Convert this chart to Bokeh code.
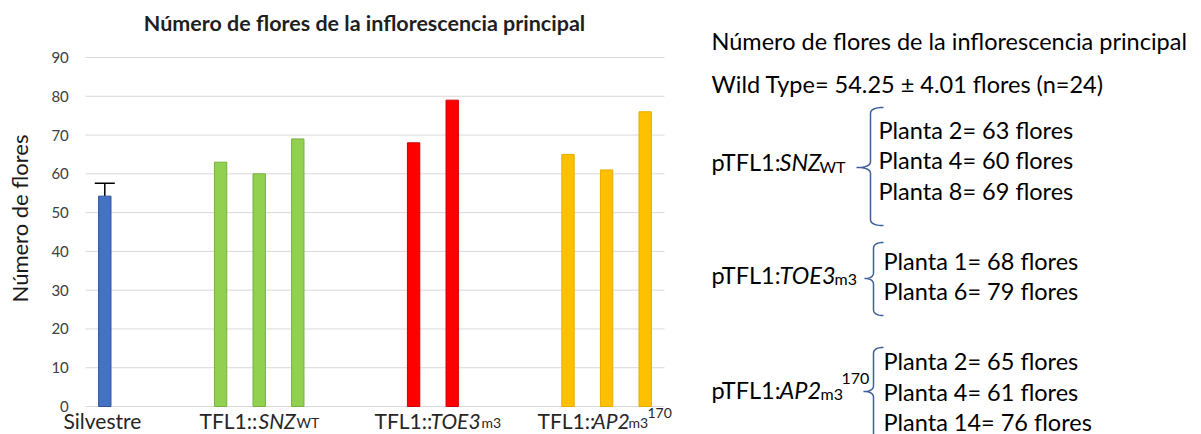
import math
from bokeh.plotting import figure
from bokeh.models import Range1d, Whisker, TeeHead, ColumnDataSource
from bokeh.layouts import row
from bokeh.core.properties import value
from bokeh.embed import file_html
from bokeh.resources import INLINE

# ---------------- data ----------------
group_names = ["Silvestre", "TFL1::SNZ", "TFL1::TOE3", "TFL1::AP2"]
silvestre = [54.25]
silvestre_err = [3.3]          # error bar as drawn in the picture
snz_wt = [63, 60, 69]
toe3_m3 = [68, 79]
ap2_m3_170 = [65, 61, 76]
y_ticks = [0, 10, 20, 30, 40, 50, 60, 70, 80, 90]

wt_mean, wt_sd, wt_n = 54.25, 4.01, 24
snz_plants = ["Planta 2", "Planta 4", "Planta 8"]
toe3_plants = ["Planta 1", "Planta 6"]
ap2_plants = ["Planta 2", "Planta 4", "Planta 14"]

title_text = "Número de flores de la inflorescencia principal"
y_title = "Número de flores"

# ---------------- layout constants (page pixels) ----------------
FONT = "Lato"
W_TOTAL, FIG_H = 1201, 434
SPLIT = 680                      # page x where the right panel starts
GRID_L, GRID_R = 85, 664         # plot area in page px
Y0_PX, YTOP_PX = 406, 57         # page y of 0 and of 90
GAP = 2                          # empty slots between groups
BAR_W = 0.32
TDY = 8                          # baseline correction for alphabetic text
TICK_RIGHT = 68                  # right edge of the y tick labels
DIGIT_PX = 8.4                   # approx digit width at 15px

series = [silvestre, snz_wt, toe3_m3, ap2_m3_170]
styles = [("#4472C4", "#2F5597"), ("#92D050", "#76B041"),
          ("#FF0000", "#D00000"), ("#FFC000", "#E5AC00")]
positions = []
s = 0
for vals in series:
    positions.append([s + i for i in range(len(vals))])
    s += len(vals) + GAP
n_slots = s - GAP

k = (Y0_PX - YTOP_PX) / y_ticks[-1]
slot_px = (GRID_R - GRID_L) / n_slots


def dx(px):
    return -0.5 + (px - GRID_L) / slot_px


def dy(py):
    return (Y0_PX - py) / k


p = figure(width=SPLIT, height=FIG_H,
           x_range=Range1d(dx(0), dx(SPLIT)), y_range=Range1d(dy(FIG_H), dy(0)),
           output_backend="svg", toolbar_location=None,
           min_border_left=0, min_border_right=0,
           min_border_top=0, min_border_bottom=0)
p.outline_line_color = None
p.axis.visible = False
p.grid.visible = False

# horizontal gridlines at the tick values
p.segment(x0=[dx(GRID_L)] * len(y_ticks), x1=[dx(GRID_R)] * len(y_ticks),
          y0=y_ticks, y1=y_ticks, line_color="#D9D9D9", line_width=1)

for xs, vals, (fc, lc) in zip(positions, series, styles):
    p.vbar(x=xs, top=vals, bottom=0, width=BAR_W, fill_color=fc, line_color=lc, line_width=1)

err_src = ColumnDataSource(dict(base=positions[0], lower=silvestre,
                                upper=[m + e for m, e in zip(silvestre, silvestre_err)]))
p.add_layout(Whisker(base="base", lower="lower", upper="upper", source=err_src,
                     dimension="height", line_color="black", line_width=1.5,
                     upper_head=TeeHead(size=20, line_color="black", line_width=1.5),
                     lower_head=TeeHead(size=1, line_alpha=0)))

# y tick labels (centred so that their right edges line up)
tick_text = [str(t) for t in y_ticks]
p.text(x=[dx(TICK_RIGHT - DIGIT_PX * len(t) / 2) for t in tick_text], y=y_ticks,
       text=tick_text, text_font=value(FONT), text_font_size=value("15px"),
       text_color="#404040", text_align="center", text_baseline="middle")


def lab(px, py, text, size, style="normal", color="#262626", align="left", angle=0.0,
        baseline="alphabetic"):
    yy = py - TDY if baseline == "alphabetic" else py
    p.text(x=[dx(px)], y=[dy(yy)], text=[text], text_font=value(FONT),
           text_font_size=value(size), text_font_style=value(style), text_color=color,
           text_align=align, text_baseline=baseline, angle=angle)


# chart title and axis title
lab(364, 30, title_text, "21.5px", style="bold", color="#1F1F1F", align="center")
lab(18.5, 218, y_title, "22px", color="#1A1A1A", align="center", angle=math.pi / 2,
    baseline="middle")

# category labels (rich text pieces)
XL = "21px"
XS = "14px"
BL, BS = 428, 430
lab(63, BL, group_names[0], XL)
lab(199, BL, "TFL1::", XL); lab(258, BL, "SNZ", XL, "italic"); lab(296, BS, "WT", XS)
lab(374, BL, "TFL1::", XL); lab(430, BL, "TOE3", XL, "italic"); lab(481, BS, "m3", XS)
lab(537, BL, "TFL1::", XL); lab(592, BL, "AP2", XL, "italic"); lab(628, BS, "m3", XS)
lab(647, BL - 8, "170", XS)

# ---------------- right text panel ----------------
q = figure(width=W_TOTAL - SPLIT, height=FIG_H,
           x_range=Range1d(SPLIT, W_TOTAL), y_range=Range1d(FIG_H, 0),
           output_backend="svg", toolbar_location=None,
           min_border_left=0, min_border_right=0, min_border_top=0, min_border_bottom=0)
q.outline_line_color = None
q.axis.visible = False
q.grid.visible = False

BIG = "23.5px"
SUB = "16px"


def txt(px, py, text, size=BIG, style="normal"):
    q.text(x=[px], y=[py - TDY], text=[text], text_font=value(FONT), text_font_size=value(size),
           text_font_style=value(style), text_color="#000000", text_align="left",
           text_baseline="alphabetic")


def brace(vx, top, mid, bot, hook, tip, r=6):
    def quad(p0, c, p1, n=8):
        return [((1 - t) ** 2 * p0[0] + 2 * (1 - t) * t * c[0] + t ** 2 * p1[0],
                 (1 - t) ** 2 * p0[1] + 2 * (1 - t) * t * c[1] + t ** 2 * p1[1])
                for t in [i / n for i in range(n + 1)]]
    pts = []
    pts += quad((vx + hook, top), (vx, top), (vx, top + r))
    pts += quad((vx, mid - r), (vx, mid), (vx - tip, mid))
    pts += quad((vx - tip, mid), (vx, mid), (vx, mid + r))
    pts += quad((vx, bot - r), (vx, bot), (vx + hook, bot))
    q.line(x=[a for a, _ in pts], y=[b for _, b in pts], line_color="#3F5F9A", line_width=1.5)


txt(711, 48, title_text)
txt(711, 91, f"Wild Type= {wt_mean:.2f} ± {wt_sd:.2f} flores (n={wt_n})")

X_IT = 779
# SNZ block
txt(711, 169, "pTFL1:"); txt(X_IT, 169, "SNZ", style="italic"); txt(X_IT + 40, 174, "WT", SUB)
brace(870, 107, 167, 225, 13, 14)
for name, v, yb in zip(snz_plants, snz_wt, [137, 167, 198]):
    txt(878, yb, f"{name}= {v} flores")

# TOE3 block
txt(711, 282, "pTFL1:"); txt(X_IT, 282, "TOE3", style="italic"); txt(X_IT + 55, 286, "m3", SUB)
brace(873, 242, 278, 315, 10, 9)
for name, v, yb in zip(toe3_plants, toe3_m3, [268, 298]):
    txt(883, yb, f"{name}= {v} flores")

# AP2 block
txt(711, 397, "pTFL1:"); txt(X_IT, 397, "AP2", style="italic"); txt(X_IT + 41, 401, "m3", SUB)
txt(X_IT + 62, 386, "170", SUB)
brace(873, 347, 391, 440, 10, 10)
for name, v, yb in zip(ap2_plants, ap2_m3_170, [368, 399, 429]):
    txt(883, yb, f"{name}= {v} flores")

layout = row(p, q)
open("out.html", "w").write(file_html(layout, INLINE))
